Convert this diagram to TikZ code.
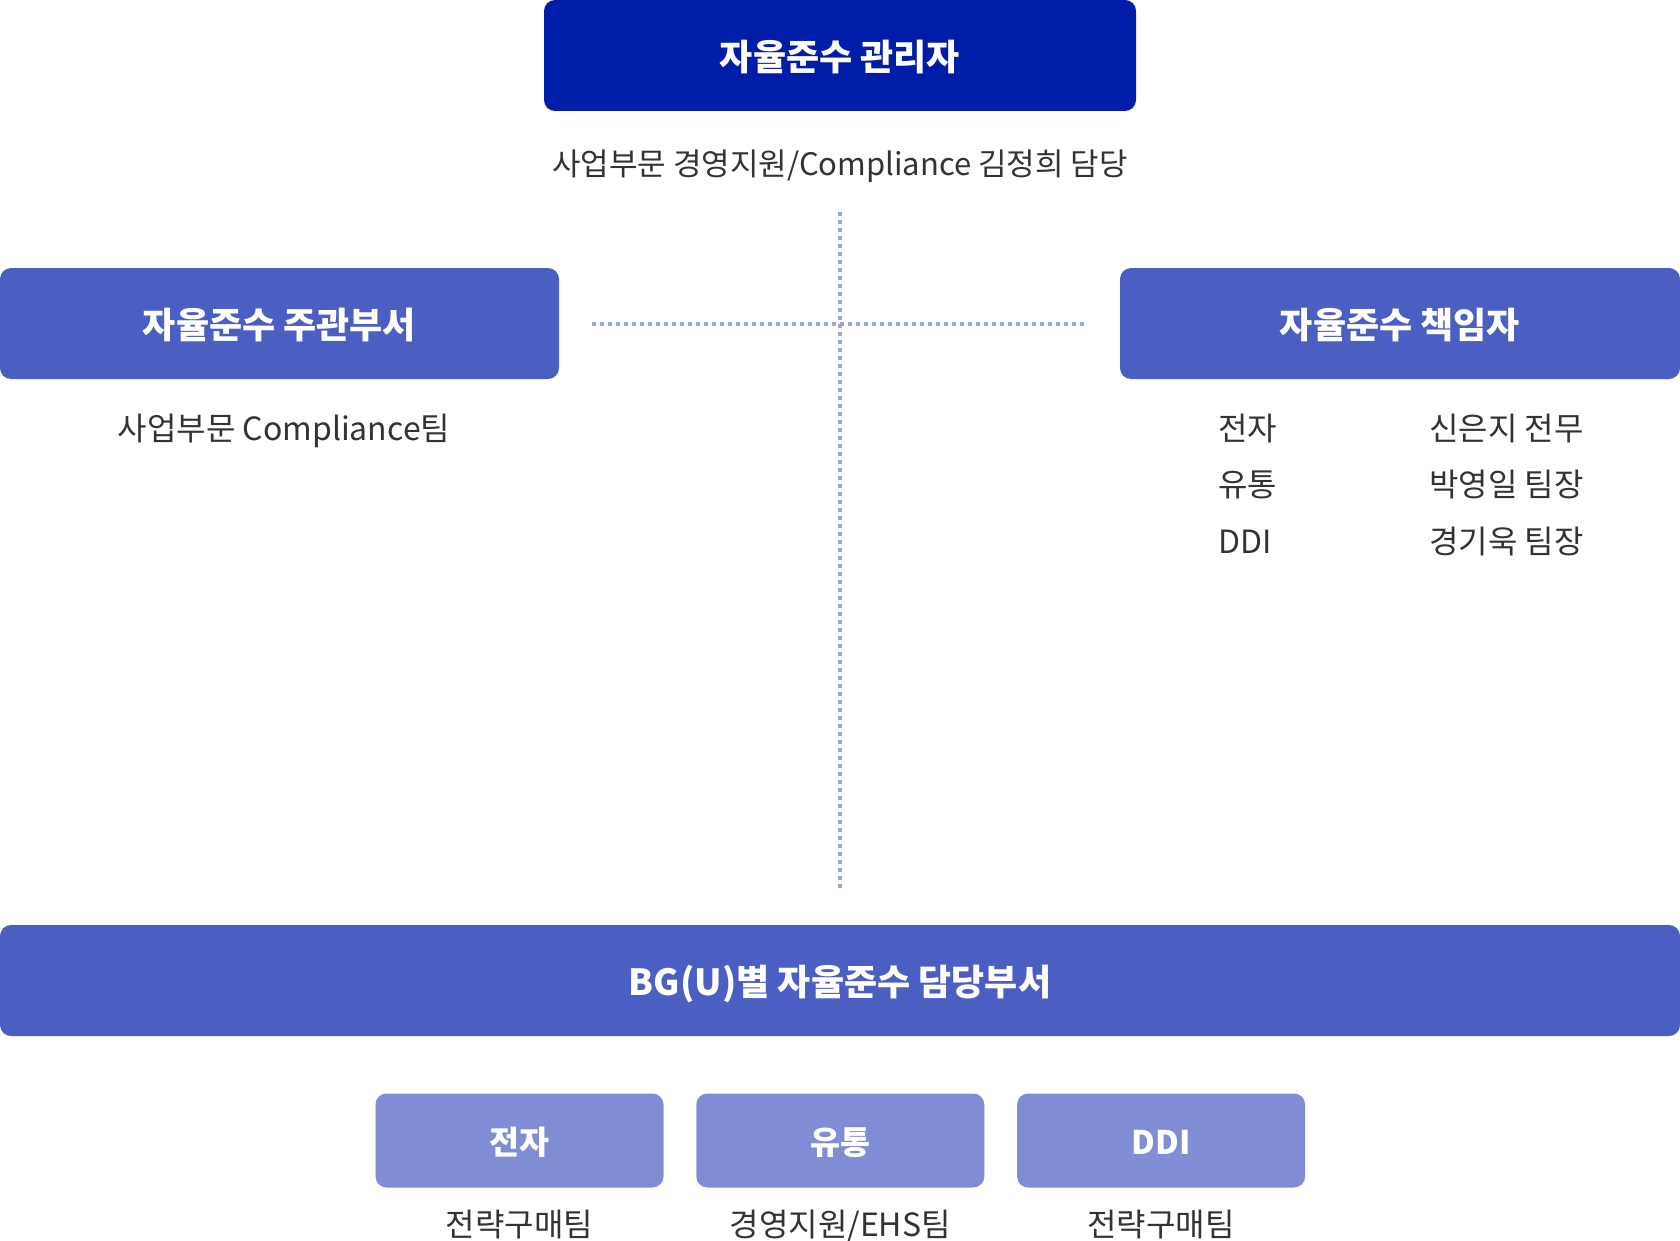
\documentclass[tikz,border=0pt]{standalone}
\usepackage{fontspec}
\setmainfont{Noto Sans CJK KR}
\usetikzlibrary{positioning}
\usepackage{xcolor}
\definecolor{azulescuro}{RGB}{0, 29, 170}
\definecolor{azulmedio}{RGB}{75, 95, 195}
\definecolor{azulclaro}{RGB}{128, 141, 212}
\definecolor{pontilhado}{RGB}{155, 165, 223}
\definecolor{textocinza}{RGB}{51, 51, 51}

\begin{document}
\begin{tikzpicture}[
                x=0.5pt, y=-0.5pt,
                box/.style={rounded corners=5.5pt, inner sep=0pt, text=white, text height=17pt, text depth=2pt, font=\bfseries\fontsize{18}{22}\selectfont, minimum height=55.5pt},
                topbox/.style={box, fill=azulescuro, minimum width=296pt},
                midbox/.style={box, fill=azulmedio, minimum width=280pt},
                subbox/.style={box, fill=azulclaro, minimum width=144pt, minimum height=47pt, text height=15.4pt, text depth=1.8pt, font=\bfseries\fontsize{16.3}{20}\selectfont},
                note/.style={inner sep=0pt, text height=0.9em, text depth=0.25em, text=textocinza, font=\fontsize{16}{19}\selectfont},
                dotline/.style={line width=2pt, dash pattern=on 2pt off 2pt, color=pontilhado}
            ]
                \useasboundingbox (0,0) rectangle (1680,1241);

                % Gestor
                \node[topbox] (gwanri) at (840,55.5) {자율준수 관리자};
                \node[note, font=\fontsize{15.5}{19}\selectfont] (gwanrinote) at (840,169) {사업부문 경영지원/Compliance 김정희 담당};

                % Departamento e responsaveis
                \node[midbox, minimum width=279.5pt] (jugwan) at (279.5,323.5) {자율준수 주관부서};
                \node[note] (jugwannote) at (284,433.5) {사업부문 Compliance팀};
                \node[midbox] (chaegim) at (1400,323.5) {자율준수 책임자};

                \node[note, anchor=west] (bu1) at (1218,433.5) {전자};
                \node[note, anchor=west] (bu2) at (1218,489.5) {유통};
                \node[note, anchor=west] (bu3) at (1218,546.5) {DDI};
                \node[note, anchor=west] (resp1) at (1429,433.5) {신은지 전무};
                \node[note, anchor=west] (resp2) at (1429,489.5) {박영일 팀장};
                \node[note, anchor=west] (resp3) at (1429,546.5) {경기욱 팀장};

                % Departamentos por BG
                \node[midbox, minimum width=840pt] (bg) at (840,980.5) {BG(U)별 자율준수 담당부서};

                \node[subbox] (jeonja) at (519.5,1140.5) {전자};
                \node[subbox, right=16pt of jeonja] (yutong) {유통};
                \node[subbox, right=16pt of yutong] (ddi) {DDI};
                \node[note] (jeonjanote) at (jeonja.center |- 0,1229.5) {전략구매팀};
                \node[note] (yutongnote) at (yutong.center |- 0,1229.5) {경영지원/EHS팀};
                \node[note] (ddinote) at (ddi.center |- 0,1229.5) {전략구매팀};

                % Ligacoes
                \draw[dotline, shorten <=16.5pt, shorten >=18pt] (jugwan.east) -- (chaegim.west);
                \draw[dotline, shorten <=50.5pt, shorten >=17pt] (gwanri.south) -- (bg.north);
            \end{tikzpicture}
\end{document}
